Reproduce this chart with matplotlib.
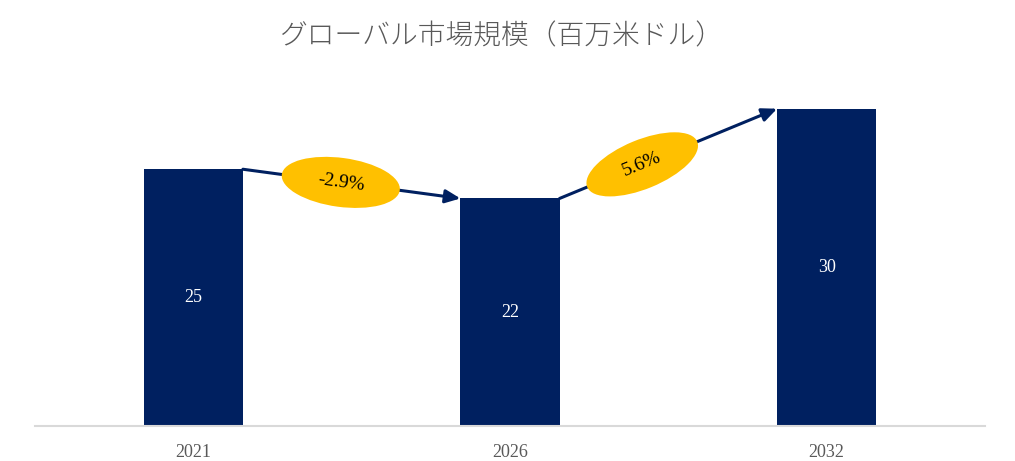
import numpy as np
import matplotlib
matplotlib.use("Agg")
import matplotlib.pyplot as plt
from matplotlib.patches import Ellipse
from matplotlib.transforms import IdentityTransform

# === data ===
years = ["2021", "2026", "2032"]
values = [24.6, 21.8, 30.4]
bar_labels = ["25", "22", "30"]
cagr_labels = ["-2.9%", "5.6%"]
title = "グローバル市場規模（百万米ドル）"

navy = "#002060"
gold = "#FFC000"
grey = "#595959"
serif = ["Liberation Serif", "DejaVu Serif"]

fig = plt.figure(figsize=(10.15, 4.61), dpi=100)
ax = fig.add_axes([35 / 1015, 35 / 461, 950 / 1015, 334 / 461])

x = np.arange(len(years))
bw = 0.313
ax.bar(x, values, width=bw, color=navy, zorder=2)
ax.set_xlim(-0.5, len(years) - 0.5)
ax.set_ylim(0, 32)

# labels inside bars
for xi, v, lab in zip(x, values, bar_labels):
    ax.text(xi, v / 2, lab, ha="center", va="center", color="white",
            fontsize=13, family=serif)

# axes styling
for s in ["top", "right", "left"]:
    ax.spines[s].set_visible(False)
ax.spines["bottom"].set_color("#d9d9d9")
ax.spines["bottom"].set_linewidth(1.5)
ax.set_yticks([])
ax.set_xticks(x)
ax.set_xticklabels(years, fontsize=13, color=grey, family=serif)
ax.tick_params(axis="x", length=0, pad=13)

# arrows + CAGR ellipses between bars
frac = [0.45, 0.38]
for i in range(len(years) - 1):
    p0 = (x[i] + bw / 2, values[i])
    p1 = (x[i + 1] - bw / 2, values[i + 1])
    ax.annotate("", xy=p1, xytext=p0,
                arrowprops=dict(arrowstyle="-|>,head_length=0.9,head_width=0.4",
                                color=navy, lw=2.2, shrinkA=0, shrinkB=0),
                zorder=3)
    d0 = ax.transData.transform(p0)
    d1 = ax.transData.transform(p1)
    ang = np.degrees(np.arctan2(d1[1] - d0[1], d1[0] - d0[0]))
    c = d0 + frac[i] * (d1 - d0)
    e = Ellipse(c, 119, 49, angle=ang, facecolor=gold, edgecolor="none",
                transform=IdentityTransform(), zorder=4, clip_on=False)
    fig.add_artist(e)
    fig.text(c[0] / fig.bbox.width, c[1] / fig.bbox.height, cagr_labels[i],
             ha="center", va="center", rotation=ang, rotation_mode="anchor",
             fontsize=14, family=serif, color="black", zorder=5)

fig.text(0.494, 0.922, title, ha="center", va="center", fontsize=20,
         color=grey, family=["Noto Sans CJK JP", "DejaVu Sans"], weight="light")

fig.savefig("out.png", dpi=100, facecolor="white")
